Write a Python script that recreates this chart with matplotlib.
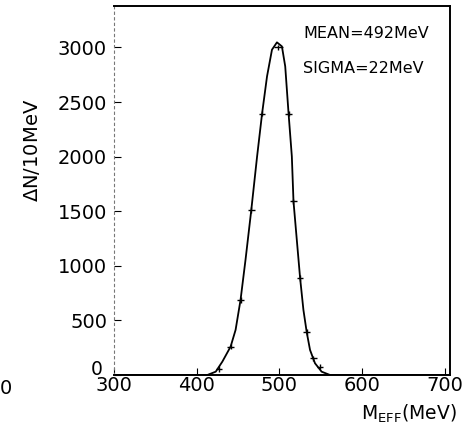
import matplotlib.pyplot as plt

# histogram points (MeV, counts per 10 MeV)
bin_x = [427, 441, 453, 466, 479, 498.5, 511, 517, 525, 533, 541, 549]
bin_y = [53, 260, 688, 1513, 2393, 3000, 2393, 1590, 887, 393, 153, 76]
bin_half = [4, 4, 4, 4, 4, 5.5, 4, 4, 4, 4, 4, 4]

# fitted curve
fit_x = [300, 413, 423, 431, 441, 447, 453, 459, 466, 473, 479, 485, 491, 497,
         503, 507, 511, 515, 517, 521, 525, 529, 533, 537, 543, 551, 561, 700]
fit_y = [0, 0, 30, 122, 260, 413, 688, 1055, 1513, 2002, 2393, 2735, 2980, 3047,
         3010, 2827, 2400, 2002, 1590, 1238, 887, 596, 391, 229, 107, 30, 0, 0]

y_ticks = [0, 500, 1000, 1500, 2000, 2500, 3000]
y_labels = ['', '500', '1000', '1500', '2000', '2500', '3000']
x_ticks = [300, 400, 500, 600, 700]

plt.rcParams['font.family'] = ['DejaVu Sans']

fig = plt.figure(figsize=(4.75, 4.29), dpi=100)
ax = fig.add_axes([0.240, 0.126, 0.707, 0.860])

ax.plot(fit_x, fit_y, color='black', linewidth=1.3)
ax.errorbar(bin_x, bin_y, xerr=bin_half, yerr=25, fmt='none',
            ecolor='black', elinewidth=1.0, capsize=0)

ax.set_xlim(300, 706)
ax.set_ylim(0, 3380)
ax.set_xticks(x_ticks)
ax.set_yticks(y_ticks)
ax.set_yticklabels(y_labels)
ax.tick_params(axis='both', direction='in', length=5, width=0.8, labelsize=14)
ax.tick_params(axis='y', pad=5)
ax.tick_params(axis='x', pad=1)

# the zero label sits a little above the 300 label in the original
ax.text(-0.035, 0.0, '0', transform=ax.transAxes, fontsize=13.5,
        ha='right', va='baseline')

ax.spines['left'].set_linestyle((0, (2, 3)))
ax.spines['left'].set_color('#777777')
for side in ['top', 'right', 'bottom']:
    ax.spines[side].set_linewidth(1.4)

ax.text(0.563, 0.925, 'MEAN=492MeV', transform=ax.transAxes, fontsize=11.5,
        va='center')
ax.text(0.563, 0.83, 'SIGMA=22MeV', transform=ax.transAxes, fontsize=11.5,
        va='center')

fig.text(0.068, 0.65, r'$\Delta$N/10MeV', rotation=90, fontsize=14,
         ha='center', va='center')
fig.text(0.86, 0.035, r'M$_{\mathregular{EFF}}$(MeV)', fontsize=13.5,
         ha='center', va='center')
fig.text(0.0, 0.095, '0', fontsize=14, ha='left', va='center')

fig.savefig('out.png', dpi=100)
